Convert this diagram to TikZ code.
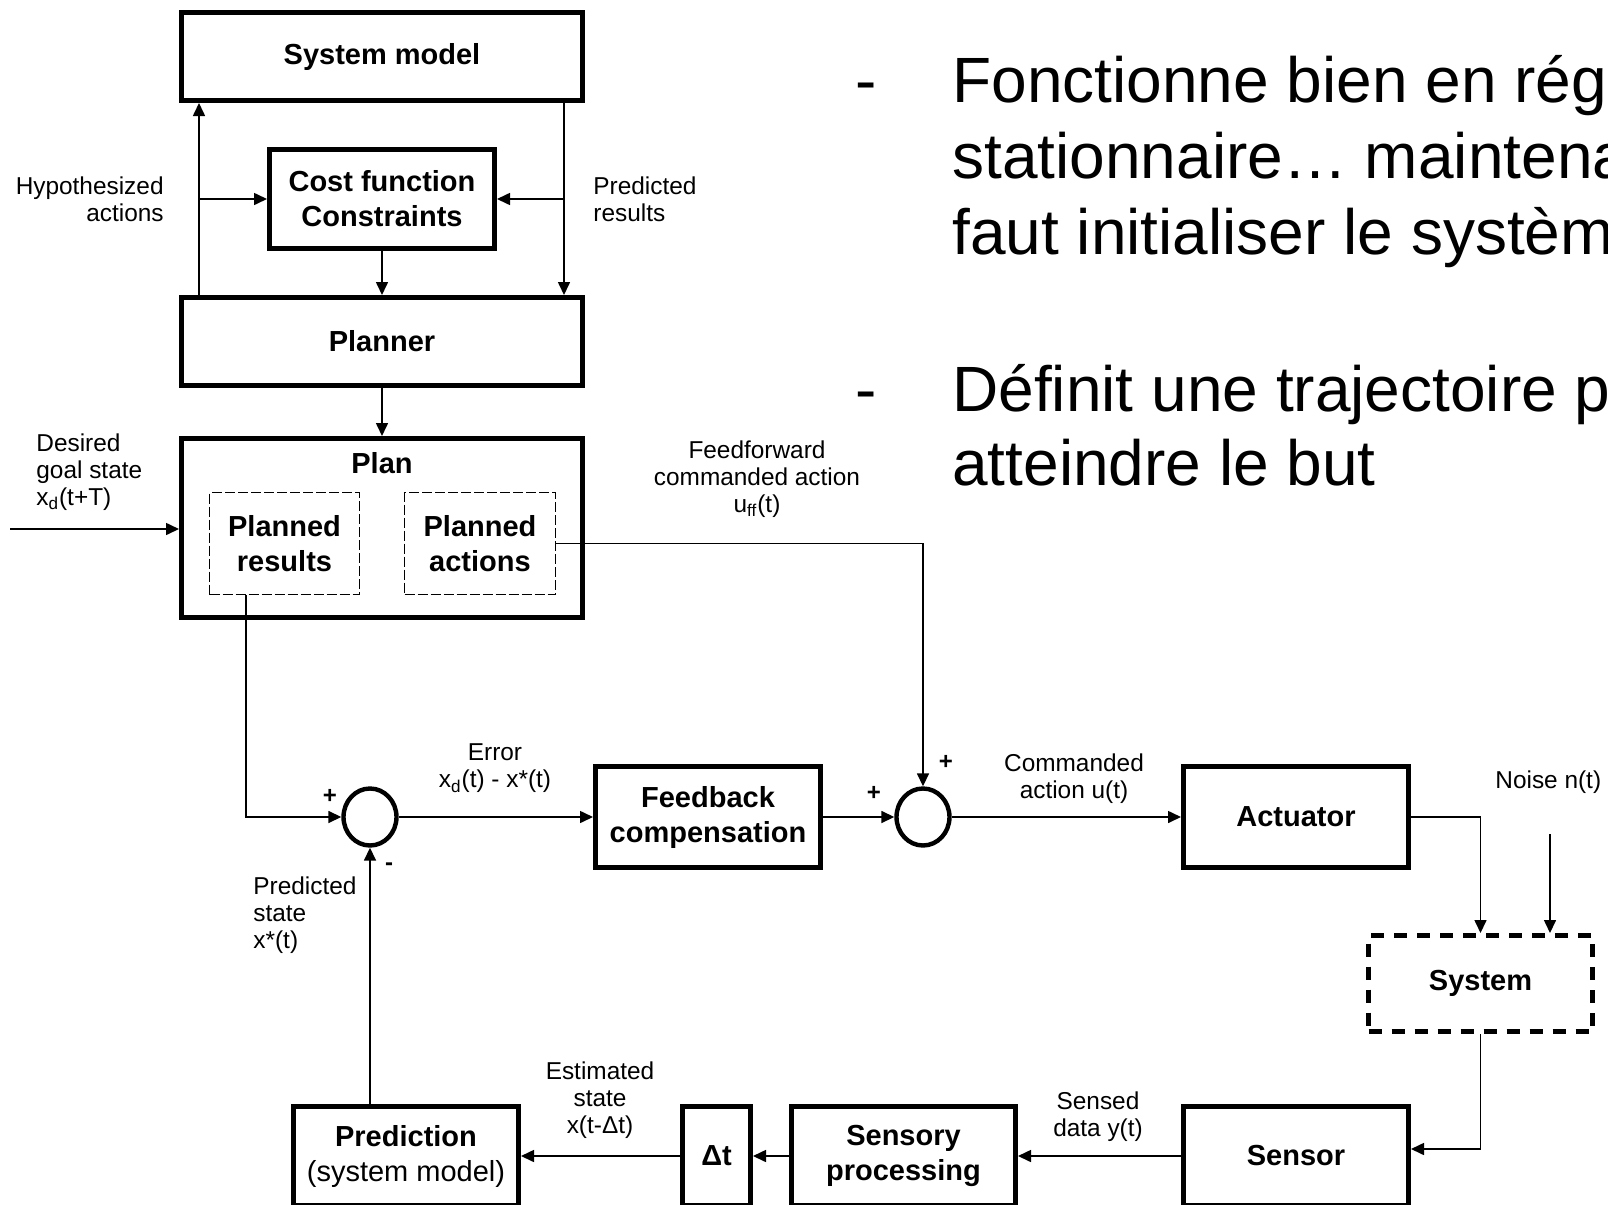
\documentclass[tikz,border=0pt]{standalone}
\usepackage{fontspec}
\setmainfont{Liberation Sans}
\usetikzlibrary{arrows.meta,shapes.geometric}
\newcommand\lblbold{\bfseries\fontsize{14.5}{17.5}\selectfont}
\newcommand\lblsmall{\fontsize{12.2}{13.6}\selectfont}
\newcommand\slidefont{\fontsize{32}{37.5}\selectfont}
\begin{document}
\begin{tikzpicture}[x=0.5pt,y=-0.5pt,
  bx/.style={draw,line width=2.5pt,inner sep=0pt,align=center,font=\lblbold},
  dbx/.style={draw,line width=0.75pt,dash pattern=on 5pt off 1.5pt,inner sep=0pt,align=center,font=\lblbold},
  sysbx/.style={draw,line width=2.5pt,dash pattern=on 6.5pt off 5pt,inner sep=0pt,align=center,font=\lblbold},
  sumnode/.style={ellipse,draw,line width=2.2pt,inner sep=0pt,minimum width=26.5pt,minimum height=28.5pt},
  conn/.style={line width=0.8pt,-{Triangle[length=6.5pt,width=6pt]}},
  lbl/.style={inner sep=0pt,font=\lblsmall},
  sign/.style={inner sep=0pt,font=\bfseries\fontsize{12}{12}\selectfont},
  slide/.style={inner sep=0pt,anchor=base west,font=\slidefont}]
\useasboundingbox (0,0) rectangle (1608,1205);
\fill[white] (0,0) rectangle (1608,1205);
\clip (0,0) rectangle (1608,1205);

% planning loop
\node[bx,minimum width=200.5pt,minimum height=44pt] (sysmodel) at (382,56.5) {System model};
\node[bx,minimum width=112.5pt,minimum height=49.5pt] (cost) at (382,199) {Cost function\\Constraints};
\node[bx,minimum width=200.5pt,minimum height=44pt] (planner) at (382,341.5) {Planner};
\node[bx,minimum width=200.5pt,minimum height=89.5pt] (plan) at (382,528) {};
\node[inner sep=0pt,font=\lblbold] (plantitle) at (382,463) {Plan};
\node[dbx,minimum width=75pt,minimum height=51pt] (presults) at (284.5,543.5) {Planned\\results};
\node[dbx,minimum width=75.5pt,minimum height=51pt] (pactions) at (480,543.5) {Planned\\actions};

% control loop
\node[sumnode] (s1) at (370,817) {};
\node[bx,minimum width=112.5pt,minimum height=50.5pt] (feedback) at (708,817) {Feedback\\compensation};
\node[sumnode] (s2) at (923,817) {};
\node[bx,minimum width=112.5pt,minimum height=50.5pt] (actuator) at (1296,817) {Actuator};
\node[sysbx,minimum width=112pt,minimum height=48pt] (system) at (1480.5,983.5) {System};
\node[bx,minimum width=112.5pt,minimum height=49.5pt] (sensor) at (1296,1156) {Sensor};
\node[bx,minimum width=112pt,minimum height=49.5pt] (sensory) at (903.5,1156) {Sensory\\processing};
\node[bx,minimum width=34pt,minimum height=49.5pt] (delay) at (716.5,1156) {Δt};
\node[bx,minimum width=112.5pt,minimum height=49.5pt] (prediction) at (406,1156) {Prediction\\\mdseries(system model)};

% helper coordinates for the vertical runs
\coordinate (hx) at (199,0);
\coordinate (px) at (564,0);
\coordinate (rx) at (246,0);
\coordinate (goal) at (10,529);
\coordinate (noise) at (1550,834);

% connectors: planning
\draw[conn] (planner.north -| hx) -- (sysmodel.south -| hx);
\draw[conn] (cost.west -| hx) -- (cost.west);
\draw[conn] (sysmodel.south -| px) -- (planner.north -| px);
\draw[conn] (cost.east -| px) -- (cost.east);
\draw[conn] (cost.south) -- (planner.north);
\draw[conn] (planner.south) -- (plan.north);
\draw[conn] (goal) -- (goal -| plan.west);
\draw[conn] (pactions.east) -| (s2.north);
\draw[conn] (presults.south -| rx) |- (s1.west);

% connectors: control loop
\draw[conn] (s1.east) -- (feedback.west);
\draw[conn] (feedback.east) -- (s2.west);
\draw[conn] (s2.east) -- (actuator.west);
\draw[conn] (actuator.east) -| (system.north);
\draw[conn] (noise) -- (noise |- system.north);
\draw[conn] (system.south) |- ([yshift=3.5pt]sensor.east);
\draw[conn] (sensor.west) -- (sensory.east);
\draw[conn] (sensory.west) -- (delay.east);
\draw[conn] (delay.west) -- (prediction.east);
\draw[conn] (prediction.north -| s1) -- (s1.south);

% signal labels
\node[lbl,align=right,anchor=east] (lhyp) at (164,199.5) {Hypothesized\\actions};
\node[lbl,align=left,anchor=west] (lpred) at (593,199.5) {Predicted\\results};
\node[lbl,align=left,anchor=west] (lgoal) at (36,472) {Desired\\goal state\\x\textsubscript{d}(t+T)};
\node[lbl,align=center] (lff) at (757,479) {Feedforward\\commanded action\\u\textsubscript{ff}(t)};
\node[lbl,align=center] (lerr) at (495,768.5) {Error\\x\textsubscript{d}(t) - x*(t)};
\node[lbl,align=center] (lcmd) at (1074,779) {Commanded\\action u(t)};
\node[lbl,anchor=west] (lnoise) at (1495,782) {Noise n(t)};
\node[lbl,align=left,anchor=west] (lpst) at (253,915) {Predicted\\state\\x*(t)};
\node[lbl,align=center] (lest) at (600,1100) {Estimated\\state\\x(t-Δt)};
\node[lbl,align=center] (lsens) at (1098,1117) {Sensed\\data y(t)};

% summing-junction signs
\node[sign] (p1) at (330,796) {+};
\node[sign] (m1) at (389,867) {-};
\node[sign] (p2) at (874,793) {+};
\node[sign] (p3) at (946,762) {+};

% bullet text
\node[slide] (d1) at (855,102) {-};
\node[slide] (t1) at (952,102) {Fonctionne bien en rég};
\node[slide] (t2) at (952,178) {stationnaire… maintena};
\node[slide] (t3) at (952,254) {faut initialiser le systèm};
\node[slide] (d2) at (855,411) {-};
\node[slide] (t4) at (952,411) {Définit une trajectoire p};
\node[slide] (t5) at (952,485) {atteindre le but};
\end{tikzpicture}
\end{document}
